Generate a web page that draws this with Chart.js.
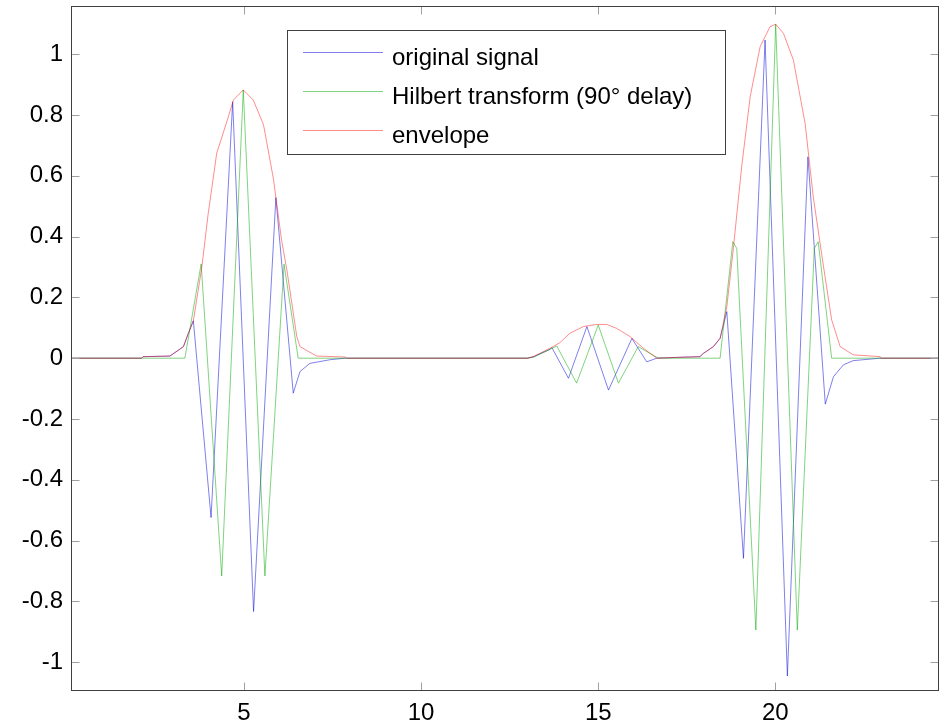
<!DOCTYPE html>
<html>
<head>
<meta charset="utf-8">
<script src="https://cdn.jsdelivr.net/npm/chart.js@4.4.1/dist/chart.umd.min.js"></script>
<style>
  html, body { margin: 0; padding: 0; background: #fff; }
  #wrap { width: 943px; height: 724px; }
</style>
</head>
<body>
<div id="wrap"><canvas id="myChart"></canvas></div>
<script>
// values (x in axis units, y in signal units)
const signalX = [0.116, 2.11, 2.15, 2.91, 3.29, 3.43, 3.57, 4.07, 4.68, 5.27, 5.90, 6.39, 6.58, 6.86, 7.43, 7.85,
  13.0, 13.17, 13.64, 13.69, 14.16, 14.68, 15.29, 15.95, 16.37, 16.65,
  17.31, 17.87, 17.97, 18.25, 18.44, 18.63, 19.10, 19.71, 20.34, 20.92, 21.41, 21.64, 21.92, 22.20, 22.96, 24.62];
const signalY = [0, 0, 0.005, 0.007, 0.038, 0.082, 0.123, -0.524, 0.843, -0.833, 0.528, -0.115, -0.044, -0.017, -0.005, 0,
  0, 0.005, 0.029, 0.035, -0.066, 0.104, -0.105, 0.065, -0.012, 0,
  0.003, 0.005, 0.016, 0.038, 0.065, 0.153, -0.658, 1.046, -1.045, 0.662, -0.151, -0.061, -0.022, -0.008, 0, 0];

const hilbertX = [0.116, 3.33, 3.79, 4.37, 4.98, 5.59, 6.13, 6.53,
  13.0, 13.17, 13.83, 14.39, 15.00, 15.57, 16.13, 16.70,
  18.44, 18.80, 18.91, 19.45, 20.01, 20.62, 21.10, 21.21, 21.59, 24.62];
const hilbertY = [0, 0, 0.31, -0.716, 0.882, -0.716, 0.309, 0,
  0, 0.003, 0.040, -0.082, 0.109, -0.082, 0.038, 0,
  0, 0.383, 0.361, -0.894, 1.098, -0.894, 0.361, 0.383, 0, 0];

const envelopeX = [0.116, 2.11, 2.15, 2.91, 3.29, 3.43, 3.57, 3.81, 3.99, 4.23,
  4.56, 4.70, 4.98, 5.26, 5.55, 5.83, 6.06, 6.21, 6.49, 6.58,
  7.05, 7.85, 7.90, 13.0, 13.17, 13.69, 13.92, 14.20, 14.58, 14.96,
  15.24, 15.52, 15.90, 16.27, 16.65, 17.31, 17.87, 17.97, 18.25, 18.44,
  18.63, 18.81, 19.05, 19.29, 19.57, 19.85, 20.01, 20.23, 20.51, 20.84,
  21.07, 21.36, 21.59, 21.83, 22.20, 22.96, 22.99, 24.62];
const envelopeY = [0, 0, 0.005, 0.007, 0.038, 0.082, 0.123, 0.30, 0.476, 0.674,
  0.794, 0.849, 0.882, 0.849, 0.768, 0.59, 0.389, 0.29, 0.071, 0.038,
  0.007, 0.004, 0, 0, 0.005, 0.036, 0.051, 0.082, 0.104, 0.111,
  0.111, 0.098, 0.071, 0.033, 0, 0.003, 0.005, 0.016, 0.038, 0.065,
  0.169, 0.356, 0.63, 0.86, 1.024, 1.09, 1.098, 1.068, 0.98, 0.772,
  0.531, 0.301, 0.126, 0.038, 0.011, 0.005, 0, 0];

const seriesNames = ['original signal', 'Hilbert transform (90\u00B0 delay)', 'envelope'];
const seriesColors = ['rgba(0,0,220,0.5)', 'rgba(0,170,0,0.5)', 'rgba(255,0,0,0.45)'];
const xTicks = [5, 10, 15, 20];
const yTicks = [-1, -0.8, -0.6, -0.4, -0.2, 0, 0.2, 0.4, 0.6, 0.8, 1];

const FONT = { family: '"Liberation Sans", Arial, sans-serif', size: 24 };

function pts(xs, ys) {
  return xs.map((x, i) => ({ x: x, y: ys[i] }));
}

// MATLAB-like box, inward ticks and boxed legend
const matlabFrame = {
  id: 'matlabFrame',
  afterDraw(chart) {
    const c = chart.ctx;
    const a = chart.chartArea;
    const sx = chart.scales.x, sy = chart.scales.y;
    const L = Math.round(a.left) + 0.5, R = Math.round(a.right) - 0.5;
    const T = Math.round(a.top) + 0.5, B = Math.round(a.bottom) + 0.5;
    c.save();
    c.lineWidth = 1;
    c.strokeStyle = '#a0a0a0';
    c.beginPath();
    xTicks.forEach(v => {
      const px = Math.round(sx.getPixelForValue(v)) + 0.5;
      c.moveTo(px, B); c.lineTo(px, B - 8);
      c.moveTo(px, T); c.lineTo(px, T + 8);
    });
    yTicks.forEach(v => {
      const py = Math.round(sy.getPixelForValue(v)) + 0.5;
      c.moveTo(L, py); c.lineTo(L + 8, py);
      c.moveTo(R, py); c.lineTo(R - 8, py);
    });
    c.stroke();
    c.strokeStyle = '#404040';
    c.strokeRect(L, T, R - L, B - T);

    // legend
    const bx = 287.5, by = 30.5, bw = 438, bh = 124;
    c.fillStyle = '#fff';
    c.fillRect(bx, by, bw, bh);
    c.strokeStyle = '#404040';
    c.strokeRect(bx, by, bw, bh);
    c.font = FONT.size + 'px ' + FONT.family;
    c.textBaseline = 'alphabetic';
    c.textAlign = 'left';
    seriesNames.forEach((name, i) => {
      const ry = Math.round(52 + i * 39) + 0.5;
      c.strokeStyle = seriesColors[i];
      c.beginPath();
      c.moveTo(303, ry); c.lineTo(383, ry);
      c.stroke();
      c.fillStyle = '#000';
      c.fillText(name, 392, ry + 12.5);
    });
    c.restore();
  }
};

const datasets = [
  { label: seriesNames[0], data: pts(signalX, signalY), borderColor: seriesColors[0], order: 3 },
  { label: seriesNames[1], data: pts(hilbertX, hilbertY), borderColor: seriesColors[1], order: 2 },
  { label: seriesNames[2], data: pts(envelopeX, envelopeY), borderColor: seriesColors[2], order: 1 }
].map(d => Object.assign(d, { borderWidth: 1, pointRadius: 0, tension: 0, fill: false }));

const config = {
  type: 'line',
  data: { datasets: datasets },
  options: {
    responsive: true,
    maintainAspectRatio: false,
    animation: false,
    layout: { padding: { top: 6, right: 4, left: 0, bottom: 0 } },
    plugins: { legend: { display: false }, tooltip: { enabled: false } },
    scales: {
      x: {
        type: 'linear',
        min: 0.116,
        max: 24.62,
        afterBuildTicks: s => { s.ticks = xTicks.map(v => ({ value: v })); },
        afterFit: s => { s.height = 34; s.paddingLeft = 0; s.paddingRight = 0; },
        grid: { display: false, drawTicks: false },
        border: { display: false },
        ticks: { font: FONT, color: '#000', padding: 9, maxRotation: 0 }
      },
      y: {
        type: 'linear',
        min: -1.091,
        max: 1.158,
        afterBuildTicks: s => { s.ticks = yTicks.map(v => ({ value: v })); },
        afterFit: s => { s.width = 71; s.paddingTop = 0; s.paddingBottom = 0; },
        grid: { display: false, drawTicks: false },
        border: { display: false },
        ticks: {
          font: FONT, color: '#000', padding: 8,
          callback: v => String(Number(v.toFixed(1)))
        }
      }
    }
  },
  plugins: [matlabFrame]
};

const myChart = new Chart(document.getElementById('myChart'), config);
</script>
</body>
</html>
